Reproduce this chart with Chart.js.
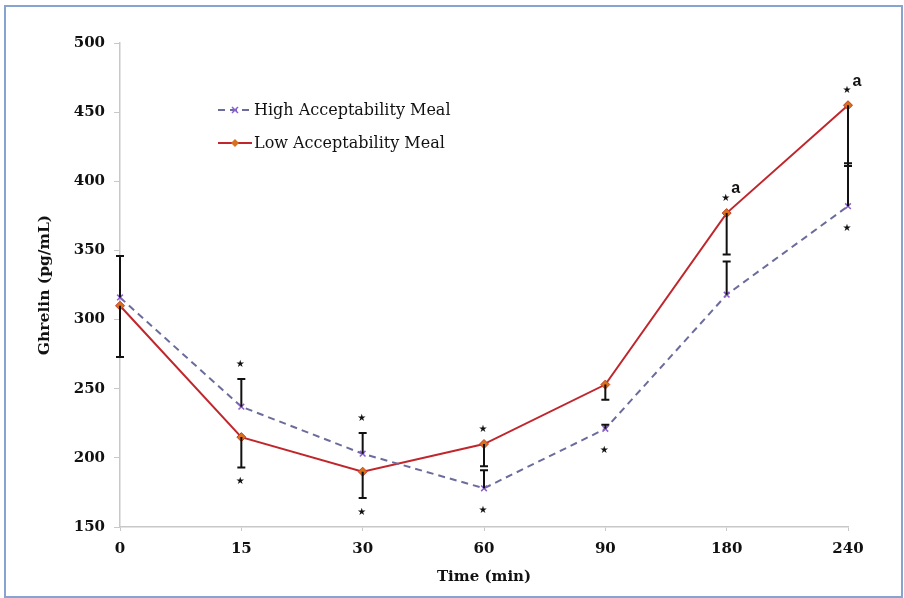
<!DOCTYPE html>
<html>
<head>
<meta charset="utf-8">
<script src="https://cdn.jsdelivr.net/npm/chart.js@4.4.0/dist/chart.umd.min.js"></script>
<style>
    html, body { margin: 0; padding: 0; background: #fff; }
    #wrap { position: relative; width: 904px; height: 598px; }
    #frame {
        position: absolute; left: 4px; top: 5px; width: 895px; height: 589px;
        border: 2px solid #86a4cf; pointer-events: none;
    }
</style>
</head>
<body>
<div id="wrap">
    <canvas id="ghrelinChart" width="904" height="598"></canvas>
    <div id="frame"></div>
</div>
<script>
// Time points (min)
const timeLabels = ['0', '15', '30', '60', '90', '180', '240'];

// Mean ghrelin (pg/mL)
const highMeal = [316, 237, 203, 178, 221, 318, 382];
const lowMeal = [310, 215, 190, 210, 253, 377, 455];

// Error bar ends: high goes up, low goes down
const highErrTop = [346, 257, 218, 191, 224, 342, 413];
const lowErrBottom = [273, 193, 171, 194, 242, 347, 411];

// Significance marks: 1 = star above, -1 = star below, 0 = none
const highStars = [0, 1, 1, -1, -1, 0, -1];
const lowStars = [0, -1, -1, 1, 0, 1, 1];
const lowLetters = ['', '', '', '', '', 'a', 'a'];

const serif = '"DejaVu Serif", "Liberation Serif", serif';

// Error bars, stars, letters and the legend box
const extrasPlugin = {
    id: 'extras',
    afterDatasetsDraw(chart) {
        const ctx = chart.ctx;
        const x = chart.scales.x;
        const y = chart.scales.y;
        ctx.save();

        // error bars
        ctx.strokeStyle = '#111';
        ctx.lineWidth = 2;
        function bar(i, from, to) {
            const px = x.getPixelForValue(i);
            const y1 = y.getPixelForValue(from);
            const y2 = y.getPixelForValue(to);
            ctx.beginPath();
            ctx.moveTo(px, y1);
            ctx.lineTo(px, y2);
            ctx.moveTo(px - 4, y2);
            ctx.lineTo(px + 4, y2);
            ctx.stroke();
        }
        timeLabels.forEach((t, i) => {
            bar(i, highMeal[i], highErrTop[i]);
            bar(i, lowMeal[i], lowErrBottom[i]);
        });

        // stars
        ctx.fillStyle = '#111';
        ctx.font = '10px "DejaVu Sans", sans-serif';
        ctx.textAlign = 'center';
        ctx.textBaseline = 'middle';
        function star(i, dir, val, errVal) {
            if (!dir) return null;
            const px = x.getPixelForValue(i);
            const a = y.getPixelForValue(val);
            const b = y.getPixelForValue(errVal);
            let sy;
            if (dir > 0) {
                sy = Math.min(a, b) - 15;
            } else {
                sy = Math.max(a, b) + (b > a ? 14 : 22);
            }
            ctx.fillText('★', px - 1, sy);
            return sy;
        }
        timeLabels.forEach((t, i) => {
            star(i, highStars[i], highMeal[i], highStars[i] > 0 ? highErrTop[i] : highMeal[i]);
            const sy = star(i, lowStars[i], lowMeal[i], lowStars[i] < 0 ? lowErrBottom[i] : lowMeal[i]);
            if (lowLetters[i] && sy !== null) {
                ctx.font = 'bold 16px "Liberation Sans", Arial, sans-serif';
                ctx.fillText(lowLetters[i], x.getPixelForValue(i) + 9, sy - 9);
                ctx.font = '10px "DejaVu Sans", sans-serif';
            }
        });

        // legend
        const ds = chart.data.datasets;
        const rows = [{ ds: ds[0], y: 110 }, { ds: ds[1], y: 143 }];
        ctx.font = '16px ' + serif;
        ctx.textAlign = 'left';
        rows.forEach(r => {
            ctx.strokeStyle = r.ds.borderColor;
            ctx.lineWidth = 2;
            ctx.setLineDash(r.ds.borderDash || []);
            ctx.beginPath();
            ctx.moveTo(218, r.y);
            ctx.lineTo(252, r.y);
            ctx.stroke();
            ctx.setLineDash([]);
            const mx = 235;
            if (r.ds.pointStyle === 'crossRot') {
                ctx.strokeStyle = r.ds.pointBorderColor;
                ctx.lineWidth = 1.5;
                ctx.beginPath();
                ctx.moveTo(mx - 3, r.y - 3); ctx.lineTo(mx + 3, r.y + 3);
                ctx.moveTo(mx - 3, r.y + 3); ctx.lineTo(mx + 3, r.y - 3);
                ctx.stroke();
            } else {
                ctx.fillStyle = r.ds.pointBackgroundColor;
                ctx.beginPath();
                ctx.moveTo(mx, r.y - 4); ctx.lineTo(mx + 4, r.y);
                ctx.lineTo(mx, r.y + 4); ctx.lineTo(mx - 4, r.y);
                ctx.closePath();
                ctx.fill();
            }
            ctx.fillStyle = '#111';
            ctx.fillText(r.ds.label, 254, r.y + 1);
        });
        ctx.restore();
    }
};

const ctx = document.getElementById('ghrelinChart').getContext('2d');
const ghrelinChart = new Chart(ctx, {
    type: 'line',
    data: {
        labels: timeLabels,
        datasets: [{
            label: 'High Acceptability Meal',
            data: highMeal,
            borderColor: '#6c6c9c',
            borderWidth: 2,
            borderDash: [7, 5],
            pointStyle: 'crossRot',
            pointRadius: 4,
            pointBorderColor: '#8a5fd0',
            pointBorderWidth: 1.5,
            tension: 0,
            fill: false
        }, {
            label: 'Low Acceptability Meal',
            data: lowMeal,
            borderColor: '#c0272d',
            borderWidth: 2,
            pointStyle: 'rectRot',
            pointRadius: 4.5,
            pointBackgroundColor: '#d8701c',
            pointBorderColor: '#c0402a',
            pointBorderWidth: 1,
            tension: 0,
            fill: false
        }]
    },
    options: {
        responsive: false,
        animation: false,
        layout: {
            padding: { left: 32, top: 43, right: 56, bottom: 8 }
        },
        plugins: {
            legend: { display: false },
            tooltip: { enabled: false }
        },
        scales: {
            x: {
                offset: false,
                afterFit(scale) { scale.height = 63; },
                grid: {
                    display: true,
                    drawOnChartArea: false,
                    drawTicks: true,
                    tickLength: 4,
                    color: '#c8c8c8'
                },
                border: { color: '#c8c8c8', width: 1.5 },
                ticks: {
                    color: '#111',
                    padding: 9,
                    font: { family: serif, size: 15, weight: 'bold' }
                },
                title: {
                    display: true,
                    text: 'Time (min)',
                    color: '#111',
                    font: { family: serif, size: 15, weight: 'bold' }
                }
            },
            y: {
                min: 150,
                max: 500,
                afterFit(scale) { scale.width = 88; },
                grid: {
                    display: true,
                    drawOnChartArea: false,
                    drawTicks: true,
                    tickLength: 6,
                    color: '#c8c8c8'
                },
                border: { color: '#c8c8c8', width: 1.5 },
                ticks: {
                    stepSize: 50,
                    color: '#111',
                    padding: 9,
                    font: { family: serif, size: 15, weight: 'bold' }
                },
                title: {
                    display: true,
                    text: 'Ghrelin (pg/mL)',
                    color: '#111',
                    font: { family: serif, size: 15.5, weight: 'bold' }
                }
            }
        }
    },
    plugins: [extrasPlugin]
});
</script>
</body>
</html>
